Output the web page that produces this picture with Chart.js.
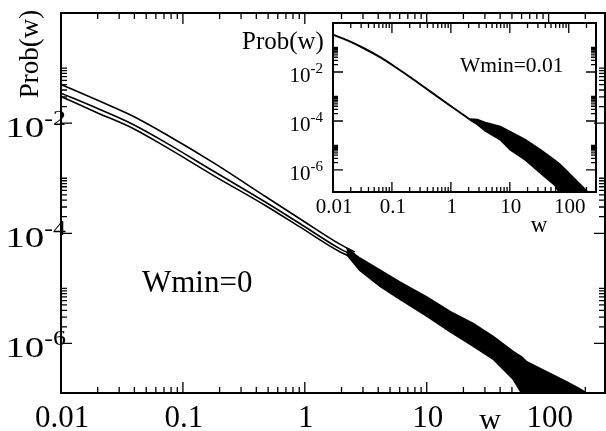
<!DOCTYPE html>
<html>
<head>
<meta charset="utf-8">
<script src="https://cdn.jsdelivr.net/npm/chart.js@4.4.1/dist/chart.umd.min.js"></script>
<style>
html, body { margin: 0; padding: 0; background: #fff; }
#wrap { position: relative; width: 606px; height: 431px; }
canvas { position: absolute; left: 0; top: 0; }
</style>
</head>
<body>
<div id="wrap">
  <canvas id="main" width="606" height="431"></canvas>
  <canvas id="inset" width="606" height="431"></canvas>
</div>
<script>
// ---- main plot (Wmin=0): three runs, smooth part ----
const wHead = [0.01, 0.0202, 0.038, 0.0712, 0.183, 0.4855, 0.91, 1.936, 2.57];
const probTop = [0.0502, 0.02578, 0.01378, 0.00643, 0.001839, 4.51e-4, 1.839e-4, 6.35e-5, 4.55e-5];
const probMid = [0.0350, 0.01823, 0.00975, 0.00453, 0.001295, 3.58e-4, 1.505e-4, 5.26e-5, 3.85e-5];
const probLow = [0.03047, 0.01518, 0.00825, 0.00378, 0.001082, 3.1e-4, 1.306e-4, 4.64e-5, 3.54e-5];
const wTail = [2.2, 2.82, 4.12, 6.0, 10, 15.5, 24, 35, 51, 60, 66, 96, 140, 179, 204];
const tailHi = [5.37e-5, 3.54e-5, 2.15e-5, 1.3e-5, 6.95e-6, 3.8e-6, 2.3e-6, 1.34e-6, 7.16e-7, 5.69e-7, 4.62e-7, 3.05e-7, 2.01e-7, 1.5e-7, 1.26e-7];
const tailLo = [4.18e-5, 2.15e-5, 1.1e-5, 6.4e-6, 3.15e-6, 1.65e-6, 9.0e-7, 5.24e-7, 2.28e-7, 1.26e-7, 1e-8, 1e-8, 1e-8, 1e-8, 1e-8];

// ---- inset (Wmin=0.01) ----
const wIn = [0.01, 0.018, 0.0327, 0.0629, 0.1208, 0.2286, 0.4446, 0.977, 2.128];
const probIn = [0.333, 0.1894, 0.0953, 0.0401, 0.01454, 0.00507, 0.00161, 4.2e-4, 1.126e-4];
const wInTail = [2.13, 2.8, 3.83, 6.89, 10.2, 18.3, 32.9, 59.2, 70, 87.5, 129, 191, 215];
const inHi = [1.2e-4, 1.13e-4, 8.5e-5, 5.83e-5, 3.64e-5, 1.72e-5, 6.71e-6, 2.38e-6, 1.71e-6, 1.02e-6, 4.0e-7, 1.56e-7, 1.18e-7];
const inLo = [1.1e-4, 7.4e-5, 4.0e-5, 1.72e-5, 6.7e-6, 2.62e-6, 7.7e-7, 2.28e-7, 1.18e-7, 1e-8, 1e-8, 1e-8, 1e-8];

// ---- axes ----
const xMin = 0.01, xMax = 290, yMin = 1.26e-7, yMax = 1;
const xTickVals = [0.01, 0.1, 1, 10, 100];
const xTickText = ['0.01', '0.1', '1', '10', '100'];
const yTickExp = [-2, -4, -6];

const SERIF = '"Liberation Serif", "DejaVu Serif", serif';

function pts(xs, ys) {
  return xs.map((x, i) => ({ x: x, y: ys[i] }));
}

function curve(xs, ys, width) {
  return { data: pts(xs, ys), borderColor: '#000', borderWidth: width, pointRadius: 0,
           fill: false, cubicInterpolationMode: 'monotone' };
}

function band(xs, ys, filled) {
  return { data: pts(xs, ys), borderColor: '#000', borderWidth: 1.8, pointRadius: 0,
           backgroundColor: '#000', fill: filled ? '+1' : false, tension: 0 };
}

// minor ticks: 2..9 per decade on x, k*10^e (k=2..10) between labelled decades on y
function xMinors() {
  const out = [];
  for (let e = -2; e <= 2; e++) for (let k = 2; k <= 9; k++) out.push(k * Math.pow(10, e));
  return out;
}
function yMinors() {
  const out = [];
  for (let e = -8; e <= 0; e += 2) for (let k = 2; k <= 10; k++) out.push(k * Math.pow(10, e));
  return out;
}

function framePlugin(o) {
  return {
    id: 'frame',
    afterDraw(chart) {
      const ctx = chart.ctx, a = chart.chartArea;
      const xs = chart.scales.x, ys = chart.scales.y;
      ctx.save();
      ctx.strokeStyle = '#000';
      ctx.fillStyle = '#000';
      ctx.lineWidth = 1.3;
      ctx.beginPath();
      const xt = (v, len) => {
        const p = xs.getPixelForValue(v);
        if (p < a.left - 0.5 || p > a.right + 0.5) return;
        ctx.moveTo(p, a.bottom); ctx.lineTo(p, a.bottom - len);
        ctx.moveTo(p, a.top); ctx.lineTo(p, a.top + len);
      };
      const yt = (v, len) => {
        const p = ys.getPixelForValue(v);
        if (p < a.top - 0.5 || p > a.bottom + 0.5) return;
        ctx.moveTo(a.left, p); ctx.lineTo(a.left + len, p);
        ctx.moveTo(a.right, p); ctx.lineTo(a.right - len, p);
      };
      xTickVals.forEach(v => xt(v, o.major));
      xMinors().forEach(v => xt(v, o.minor));
      yTickExp.forEach(e => yt(Math.pow(10, e), o.major));
      yMinors().forEach(v => yt(v, o.minor));
      ctx.stroke();

      ctx.lineWidth = 2;
      ctx.strokeRect(a.left, a.top, a.right - a.left, a.bottom - a.top);

      // x tick labels
      ctx.font = o.xFont + 'px ' + SERIF;
      ctx.textAlign = 'center';
      ctx.textBaseline = 'alphabetic';
      xTickVals.forEach((v, i) => {
        ctx.fillText(xTickText[i], xs.getPixelForValue(v) + o.xDx, a.bottom + o.xDy);
      });

      // y tick labels: 10 with superscript exponent
      yTickExp.forEach(e => {
        const p = ys.getPixelForValue(Math.pow(10, e));
        ctx.save();
        ctx.translate(o.yRight, p);
        ctx.scale(o.yStretch, 1);
        ctx.textAlign = 'right';
        ctx.font = o.supFont + 'px ' + SERIF;
        const s = String(e);
        ctx.fillText(s, 0, o.supDy);
        const sw = ctx.measureText(s).width;
        ctx.font = o.yFont + 'px ' + SERIF;
        ctx.fillText('10', -sw, o.baseDy);
        ctx.restore();
      });

      // free text
      o.texts.forEach(t => {
        ctx.save();
        ctx.font = t.size + 'px ' + SERIF;
        ctx.textAlign = t.align || 'left';
        ctx.translate(t.x, t.y);
        if (t.rot) ctx.rotate(t.rot);
        ctx.fillText(t.text, 0, 0);
        ctx.restore();
      });
      ctx.restore();
    }
  };
}

function baseOptions(pad) {
  return {
    responsive: false,
    animation: false,
    events: [],
    layout: { padding: pad },
    plugins: { legend: { display: false }, tooltip: { enabled: false } },
    scales: {
      x: { type: 'logarithmic', min: xMin, max: xMax, display: false },
      y: { type: 'logarithmic', min: yMin, max: yMax, display: false }
    }
  };
}

new Chart(document.getElementById('main'), {
  type: 'line',
  data: {
    datasets: [
      curve(wHead, probTop, 1.6),
      curve(wHead, probMid, 1.6),
      curve(wHead, probLow, 1.6),
      band(wTail, tailHi, true),
      band(wTail, tailLo, false)
    ]
  },
  options: baseOptions({ left: 61, top: 13, right: 1, bottom: 38 }),
  plugins: [framePlugin({
    major: 11, minor: 6,
    xFont: 31, xDx: 1, xDy: 34,
    yRight: 66, yStretch: 1.3, yFont: 30, supFont: 20, baseDy: 14, supDy: 2,
    texts: [
      { text: 'Prob(w)', size: 27, x: 38, y: 54, rot: -Math.PI / 2, align: 'center' },
      { text: 'Wmin=0', size: 31, x: 142, y: 292 },
      { text: 'w', size: 30, x: 490, y: 429, align: 'center' }
    ]
  })]
});

new Chart(document.getElementById('inset'), {
  type: 'line',
  data: {
    datasets: [
      curve(wIn, probIn, 2),
      band(wInTail, inHi, true),
      band(wInTail, inLo, false)
    ]
  },
  options: baseOptions({ left: 333, top: 23, right: 10, bottom: 239 }),
  plugins: [framePlugin({
    major: 10, minor: 5,
    xFont: 21, xDx: 1, xDy: 21,
    yRight: 323, yStretch: 1, yFont: 21, supFont: 15, baseDy: 10, supDy: 1,
    texts: [
      { text: 'Prob(w)', size: 25, x: 242, y: 49 },
      { text: 'Wmin=0.01', size: 21.5, x: 460, y: 72 },
      { text: 'w', size: 23, x: 539, y: 232, align: 'center' }
    ]
  })]
});
</script>
</body>
</html>
